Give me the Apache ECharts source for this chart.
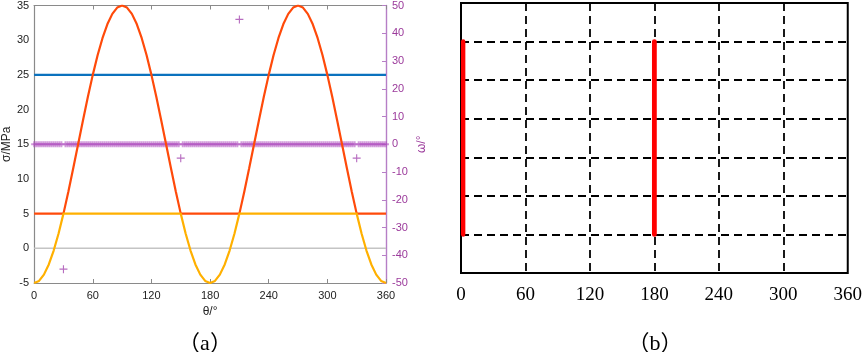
<!DOCTYPE html>
<html>
<head>
<meta charset="utf-8">
<script src="https://cdn.jsdelivr.net/npm/echarts@6/dist/echarts.min.js"></script>
<style>
html,body{margin:0;padding:0;background:#fff;}
#c{width:865px;height:352px;}
</style>
</head>
<body>
<div id="c"></div>
<script>
// ---------- data ----------
// (a) principal-stress curves, theta step 5 deg
const theta5 = [0,5,10,15,20,25,30,35,40,45,50,55,60,65,70,75,80,85,90,95,100,105,110,115,120,125,130,135,140,145,150,155,160,165,170,175,180,
  185,190,195,200,205,210,215,220,225,230,235,240,245,250,255,260,265,270,275,280,285,290,295,300,305,310,315,320,325,330,335,340,345,350,355,360];
const sigmaRed = [5,5,5,5,5,5,5,8.16,11.53,15,18.47,21.84,25,27.86,30.32,32.32,33.79,34.7,35,34.7,33.79,32.32,30.32,27.86,25,21.84,18.47,15,11.53,8.16,5,5,5,5,5,5,5,
  5,5,5,5,5,5,8.16,11.53,15,18.47,21.84,25,27.86,30.32,32.32,33.79,34.7,35,34.7,33.79,32.32,30.32,27.86,25,21.84,18.47,15,11.53,8.16,5,5,5,5,5,5,5];
const sigmaOrange = [-5,-4.7,-3.79,-2.32,-0.32,2.14,5,5,5,5,5,5,5,5,5,5,5,5,5,5,5,5,5,5,5,5,5,5,5,5,5,2.14,-0.32,-2.32,-3.79,-4.7,-5,
  -4.7,-3.79,-2.32,-0.32,2.14,5,5,5,5,5,5,5,5,5,5,5,5,5,5,5,5,5,5,5,5,5,5,5,5,5,2.14,-0.32,-2.32,-3.79,-4.7,-5];
const blueTheta = [0,360];
const sigmaBlue = [25,25];
const zeroTheta = [0,360];
const zeroSigma = [0,0];

// (a) omega markers, theta step 2 deg
const omegaTheta = [
  0,2,4,6,8,10,12,14,16,18,20,22,24,26,28,
  30,32,34,36,38,40,42,44,46,48,50,52,54,56,58,
  60,62,64,66,68,70,72,74,76,78,80,82,84,86,88,
  90,92,94,96,98,100,102,104,106,108,110,112,114,116,118,
  120,122,124,126,128,130,132,134,136,138,140,142,144,146,148,
  150,152,154,156,158,160,162,164,166,168,170,172,174,176,178,
  180,182,184,186,188,190,192,194,196,198,200,202,204,206,208,
  210,212,214,216,218,220,222,224,226,228,230,232,234,236,238,
  240,242,244,246,248,250,252,254,256,258,260,262,264,266,268,
  270,272,274,276,278,280,282,284,286,288,290,292,294,296,298,
  300,302,304,306,308,310,312,314,316,318,320,322,324,326,328,
  330,332,334,336,338,340,342,344,346,348,350,352,354,356,358,
  360];
const omegaValues = [
  0,0,0,0,0,0,0,0,0,0,0,0,0,0,0,
  -45,0,0,0,0,0,0,0,0,0,0,0,0,0,0,
  0,0,0,0,0,0,0,0,0,0,0,0,0,0,0,
  0,0,0,0,0,0,0,0,0,0,0,0,0,0,0,
  0,0,0,0,0,0,0,0,0,0,0,0,0,0,0,
  -5,0,0,0,0,0,0,0,0,0,0,0,0,0,0,
  0,0,0,0,0,0,0,0,0,0,0,0,0,0,0,
  45,0,0,0,0,0,0,0,0,0,0,0,0,0,0,
  0,0,0,0,0,0,0,0,0,0,0,0,0,0,0,
  0,0,0,0,0,0,0,0,0,0,0,0,0,0,0,
  0,0,0,0,0,0,0,0,0,0,0,0,0,0,0,
  -5,0,0,0,0,0,0,0,0,0,0,0,0,0,0,
  0];

// (b) red bars
const barTheta = [2,180];
const barLow = [1,1];
const barHigh = [6,6];

// captions
const captionA = '（a）';
const captionB = '（b）';

// ---------- helpers ----------
const zip = (xs, ys) => xs.map((x, i) => [x, ys[i]]);
const PLUS_THIN = 'path://M4.3,0h1.4v4.3h4.3v1.4h-4.3v4.3h-1.4v-4.3h-4.3v-1.4h4.3z';
const PLUS_THICK = 'path://M3.5,0h3v3.5h3.5v3h-3.5v3.5h-3v-3.5h-3.5v-3h3.5z';
const purple = '#9B3A9B';
const purpleLine = '#B67EC6';
const axisGray = '#8a8a8a';
const sansFont = 'Liberation Sans, Arial';
const capFont = '22px "Liberation Serif", "Noto Sans CJK SC", serif';

const chart = echarts.init(document.getElementById('c'), null, {renderer: 'canvas'});
chart.setOption({
  animation: false,
  backgroundColor: '#fff',
  grid: [
    {left: 32, top: 4, width: 354, height: 279},
    {left: 461, top: 3, width: 389, height: 270, show: true, borderColor: '#000', borderWidth: 2, backgroundColor: 'transparent'}
  ],
  xAxis: [
    {gridIndex: 0, type: 'value', position: 'bottom', min: 0, max: 360, interval: 60,
      axisLine: {show: true, onZero: false, lineStyle: {color: axisGray, width: 1.2}},
      axisTick: {show: true, inside: true, length: 4, lineStyle: {color: axisGray}},
      axisLabel: {color: '#222', fontSize: 11, fontFamily: sansFont, margin: 7},
      splitLine: {show: false},
      name: 'θ/°', nameLocation: 'middle', nameGap: 23,
      nameTextStyle: {color: '#222', fontSize: 12, fontFamily: sansFont}},
    {gridIndex: 0, type: 'value', position: 'top', min: 0, max: 360, interval: 60,
      axisLine: {show: true, onZero: false, lineStyle: {color: axisGray, width: 1.2}},
      axisTick: {show: true, inside: true, length: 4, lineStyle: {color: axisGray}},
      axisLabel: {show: false}, splitLine: {show: false}},
    {gridIndex: 1, type: 'value', position: 'bottom', min: 0, max: 360, interval: 60,
      axisLine: {show: false, onZero: false}, axisTick: {show: false},
      axisLabel: {color: '#000', fontSize: 19, fontFamily: 'Liberation Serif, Times New Roman, serif', margin: 13, showMaxLabel: true, showMinLabel: true},
      splitLine: {show: true, showMinLine: false, showMaxLine: false, lineStyle: {color: '#000', width: 1.8, type: [8, 5]}}}
  ],
  yAxis: [
    {gridIndex: 0, type: 'value', position: 'left', min: -5, max: 35, interval: 5,
      axisLine: {show: true, onZero: false, lineStyle: {color: axisGray, width: 1.2}},
      axisTick: {show: false},
      axisLabel: {color: '#222', fontSize: 11, fontFamily: sansFont, margin: 5},
      splitLine: {show: false},
      name: 'σ/MPa', nameLocation: 'middle', nameGap: 20, nameRotate: 90,
      nameTextStyle: {color: '#222', fontSize: 12, fontFamily: sansFont}},
    {gridIndex: 0, type: 'value', position: 'right', min: -50, max: 50, interval: 10,
      axisLine: {show: true, onZero: false, lineStyle: {color: purpleLine, width: 1.4}},
      axisTick: {show: true, inside: true, length: 4, lineStyle: {color: purpleLine}},
      axisLabel: {color: purple, fontSize: 11, fontFamily: sansFont, margin: 6},
      splitLine: {show: false},
      name: 'ω/°', nameLocation: 'middle', nameGap: 30, nameRotate: 90,
      nameTextStyle: {color: purple, fontSize: 12, fontFamily: sansFont}},
    {gridIndex: 1, type: 'value', min: 0, max: 7, interval: 1,
      axisLine: {show: false, onZero: false}, axisTick: {show: false}, axisLabel: {show: false},
      splitLine: {show: true, showMinLine: false, showMaxLine: false, lineStyle: {color: '#000', width: 1.8, type: [8, 5]}}}
  ],
  series: [
    {type: 'line', xAxisIndex: 0, yAxisIndex: 0, data: zip(zeroTheta, zeroSigma), symbol: 'none',
      lineStyle: {color: '#c4c4c4', width: 1.5}, z: 1, silent: true},
    {type: 'scatter', xAxisIndex: 0, yAxisIndex: 1, data: zip(omegaTheta, omegaValues),
      symbol: (v) => (v[1] === 0 ? PLUS_THICK : PLUS_THIN),
      symbolSize: (v) => (v[1] === 0 ? [6, 6] : 8),
      itemStyle: {color: (p) => (p.value[1] === 0 ? 'rgba(175,80,190,0.72)' : '#A548B0')}, z: 2},
    {type: 'line', xAxisIndex: 0, yAxisIndex: 0, data: zip(blueTheta, sigmaBlue), symbol: 'none',
      lineStyle: {color: '#0A72BE', width: 2.4}, z: 3},
    {type: 'line', xAxisIndex: 0, yAxisIndex: 0, data: zip(theta5, sigmaRed), symbol: 'none',
      lineStyle: {color: '#FF4A0A', width: 2.2}, z: 4},
    {type: 'line', xAxisIndex: 0, yAxisIndex: 0, data: zip(theta5, sigmaOrange), symbol: 'none',
      lineStyle: {color: '#FFB000', width: 2.2}, z: 5},
    {type: 'line', xAxisIndex: 2, yAxisIndex: 2, data: [[barTheta[0], barLow[0]], [barTheta[0], barHigh[0]]], symbol: 'none',
      lineStyle: {color: '#FF0000', width: 4.4, cap: 'round'}, z: 6},
    {type: 'line', xAxisIndex: 2, yAxisIndex: 2, data: [[barTheta[1], barLow[1]], [barTheta[1], barHigh[1]]], symbol: 'none',
      lineStyle: {color: '#FF0000', width: 4.8, cap: 'round'}, z: 6}
  ],
  graphic: [
    {type: 'text', x: 205, y: 344, style: {text: captionA, fill: '#000', align: 'center', verticalAlign: 'middle', font: capFont}},
    {type: 'text', x: 655, y: 344, style: {text: captionB, fill: '#000', align: 'center', verticalAlign: 'middle', font: capFont}}
  ]
});
</script>
</body>
</html>
